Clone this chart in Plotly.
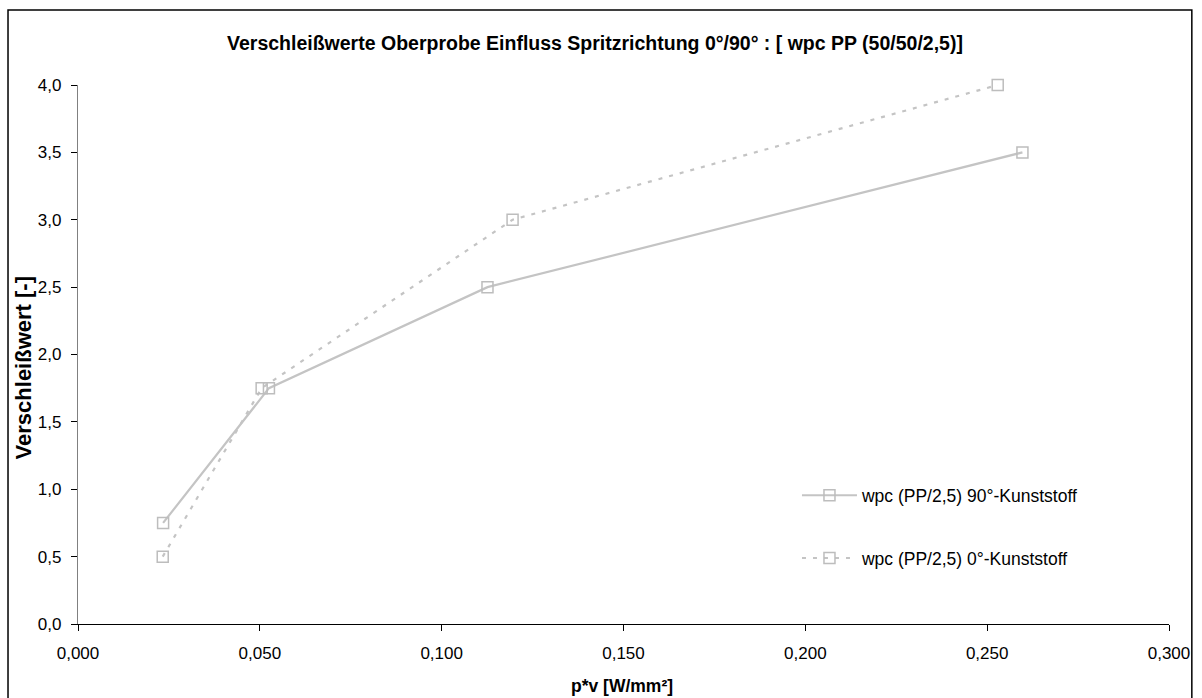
import plotly.graph_objects as go

# Measured wear values (p*v in W/mm², wear value dimensionless)
pv_90 = [0.0234, 0.0525, 0.1126, 0.2597]
wear_90 = [0.75, 1.75, 2.5, 3.5]
pv_0 = [0.0233, 0.0505, 0.1195, 0.2529]
wear_0 = [0.5, 1.75, 3.0, 4.0]

x_ticks = [0.0, 0.05, 0.10, 0.15, 0.20, 0.25, 0.30]
x_tick_text = ["0,000", "0,050", "0,100", "0,150", "0,200", "0,250", "0,300"]
y_ticks = [0.0, 0.5, 1.0, 1.5, 2.0, 2.5, 3.0, 3.5, 4.0]
y_tick_text = ["0,0", "0,5", "1,0", "1,5", "2,0", "2,5", "3,0", "3,5", "4,0"]

series_names = ["wpc (PP/2,5) 90°-Kunststoff", "wpc (PP/2,5) 0°-Kunststoff"]

line_col = "#c4c4c4"
marker = dict(symbol="square-open", size=11, color="#bdbdbd", line=dict(width=1.5, color="#bdbdbd"))

fig = go.Figure()
fig.add_trace(go.Scatter(
    x=pv_90, y=wear_90, mode="lines+markers", name=series_names[0],
    legendgroup="a", cliponaxis=False,
    line=dict(color=line_col, width=2.2, dash="solid"), marker=marker,
))
fig.add_trace(go.Scatter(
    x=pv_0, y=wear_0, mode="lines+markers", name=series_names[1],
    legendgroup="b", cliponaxis=False,
    line=dict(color=line_col, width=2.2, dash="4px,7px"), marker=marker,
))

font_main = "Arial, Liberation Sans, sans-serif"

L, R, T, B = 78, 25, 85, 74
W, H = 1202, 698
pw, ph = W - L - R, H - T - B

fig.update_layout(
    width=W, height=H,
    margin=dict(l=L, r=R, t=T, b=B),
    paper_bgcolor="white", plot_bgcolor="white",
    font=dict(family=font_main, size=17, color="black"),
    title=dict(
        text="<b>Verschleißwerte Oberprobe Einfluss Spritzrichtung 0°/90° : [ wpc PP (50/50/2,5)]</b>",
        x=0.495, xanchor="center", y=1 - 43 / H, yanchor="middle",
        font=dict(family=font_main, size=19.5, color="black"),
    ),
    xaxis=dict(
        range=[0, 0.3], tickvals=x_ticks, ticktext=x_tick_text,
        showgrid=False, zeroline=False,
        showline=True, linecolor="black", linewidth=1.3,
        ticks="outside", ticklen=6, tickcolor="black", tickwidth=1.3,
        tickfont=dict(size=17), ticklabelstandoff=7,
    ),
    yaxis=dict(
        range=[0, 4.0], tickvals=y_ticks, ticktext=y_tick_text,
        showgrid=False, zeroline=False,
        showline=True, linecolor="#808080", linewidth=1.3,
        ticks="outside", ticklen=6, tickcolor="black", tickwidth=1.3,
        tickfont=dict(size=17), ticklabelstandoff=6,
    ),
    showlegend=True,
    legend=dict(
        x=0.659, xanchor="left", y=0.272, yanchor="top",
        bgcolor="rgba(0,0,0,0)", font=dict(size=17.5),
        tracegroupgap=37, itemwidth=55,
    ),
)

# Axis titles
fig.add_annotation(text="<b>p*v [W/mm²]</b>", xref="paper", yref="paper",
                   x=(626 - L) / pw, y=(H - B - 686) / ph, xanchor="center", yanchor="middle",
                   showarrow=False, font=dict(size=17.5))
fig.add_annotation(text="<b>Verschleißwert [-]</b>", xref="paper", yref="paper",
                   x=(24 - L) / pw, y=(H - B - 368) / ph, xanchor="center", yanchor="middle",
                   textangle=-90, showarrow=False, font=dict(size=22))

# Outer chart frame
fig.add_shape(type="rect", xref="paper", yref="paper",
              x0=(7.5 - L) / pw, x1=(1200 - L) / pw,
              y0=-0.16, y1=(H - B - 10) / ph,
              line=dict(color="black", width=1.5), fillcolor="rgba(0,0,0,0)",
              layer="below")

fig.write_html("out.html")
